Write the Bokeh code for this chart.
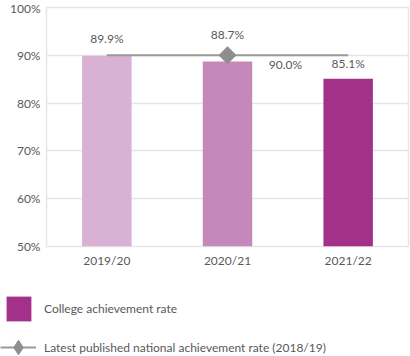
import numpy as np
from bokeh.plotting import figure
from bokeh.layouts import column
from bokeh.models import (ColumnDataSource, FactorRange, Range1d, Legend, LegendItem,
                          PrintfTickFormatter, FixedTicker)
from bokeh.core.properties import value
from bokeh.embed import file_html
from bokeh.resources import INLINE

# ---- data ----
categories = ["2019/20", "2020/21", "2021/22"]
college_rate = [89.9, 88.7, 85.1]
college_labels = ["89.9%", "88.7%", "85.1%"]
national_rate = 90.0
national_label = "90.0%"
y_ticks = [50, 60, 70, 80, 90, 100]
legend_labels = ["College achievement rate",
                 "Latest published national achievement rate (2018/19)"]

# ---- styles ----
bar_colors = ["#D8B1D5", "#C488BA", "#A3318A"]
grey_text = "#595959"
grid_col = "#E6E6E6"
line_col = "#9A9A9A"
marker_col = "#8E8E90"
FONT = "Lato"

main = figure(x_range=FactorRange(*categories), y_range=Range1d(50, 100),
              width=410, height=270, output_backend="svg", toolbar_location=None,
              min_border_left=46, min_border_right=2, min_border_top=7, min_border_bottom=22)

src = ColumnDataSource(dict(x=categories, y=college_rate, c=bar_colors, t=college_labels,
                            off=[-17, -27.5, -15]))
main.vbar(x="x", top="y", bottom=50, width=0.41, fill_color="c", line_color=None, source=src)

nat_src = ColumnDataSource(dict(x=categories, y=[national_rate] * len(categories)))
main.line(x="x", y="y", line_color=line_col, line_width=2, source=nat_src)
main.scatter(x=[categories[1]], y=[national_rate], marker="square", size=12,
             angle=np.pi / 4, fill_color=marker_col, line_color=marker_col)

main.text(x="x", y="y", text="t", y_offset="off", source=src, text_align="center",
          text_baseline="middle", text_font=value(FONT), text_font_size="12px",
          text_color=grey_text)
main.text(x=[categories[1]], y=[national_rate], text=[national_label], x_offset=58, y_offset=9,
          text_align="center", text_baseline="middle", text_font=value(FONT),
          text_font_size="12px", text_color=grey_text)

# axes / grid
main.xgrid.grid_line_color = None
main.ygrid.grid_line_color = grid_col
main.ygrid.grid_line_width = 1.5
main.outline_line_color = grid_col
main.outline_line_width = 1.5
main.yaxis.ticker = FixedTicker(ticks=y_ticks)
main.yaxis.formatter = PrintfTickFormatter(format="%d%%")
for ax in (main.xaxis, main.yaxis):
    ax.axis_line_color = None
    ax.major_tick_line_color = None
    ax.minor_tick_line_color = None
    ax.major_tick_out = 0
    ax.major_tick_in = 0
    ax.major_label_text_font = FONT
    ax.major_label_text_font_size = "12px"
    ax.major_label_text_color = grey_text
    ax.major_label_standoff = 6

# ---- legend figure (keys only, no data drawn) ----
leg = figure(width=410, height=86, output_backend="svg", toolbar_location=None,
             x_range=Range1d(0, 1), y_range=Range1d(0, 1),
             min_border=0, min_border_left=0, min_border_right=0,
             min_border_top=0, min_border_bottom=0)
if "frame_align" in leg.properties():
    leg.frame_align = False
leg.axis.visible = False
leg.grid.visible = False
leg.outline_line_color = None
key_bar = leg.vbar(x=[np.nan], top=[np.nan], width=0.1, fill_color=bar_colors[2], line_color=None)
key_line = leg.line(x=[np.nan, np.nan], y=[np.nan, np.nan], line_color=line_col, line_width=2)
key_mark = leg.scatter(x=[np.nan], y=[np.nan], marker="diamond", size=12,
                       fill_color=marker_col, line_color=marker_col)

common = dict(orientation="vertical", padding=0, margin=0, border_line_color=None,
              background_fill_alpha=0, label_text_font=FONT, label_text_font_size="12px",
              label_text_color=grey_text)
legend_a = Legend(items=[LegendItem(label=legend_labels[0], renderers=[key_bar])],
                  location=(3, 32), glyph_width=31, glyph_height=31, label_standoff=10, **common)
legend_b = Legend(items=[LegendItem(label=legend_labels[1], renderers=[key_line, key_mark])],
                  location=(0, -9), glyph_width=36, glyph_height=36, label_standoff=8, **common)
leg.add_layout(legend_a, "center")
leg.add_layout(legend_b, "center")

p = column(main, leg, spacing=0)

open("out.html", "w").write(file_html(p, INLINE))
